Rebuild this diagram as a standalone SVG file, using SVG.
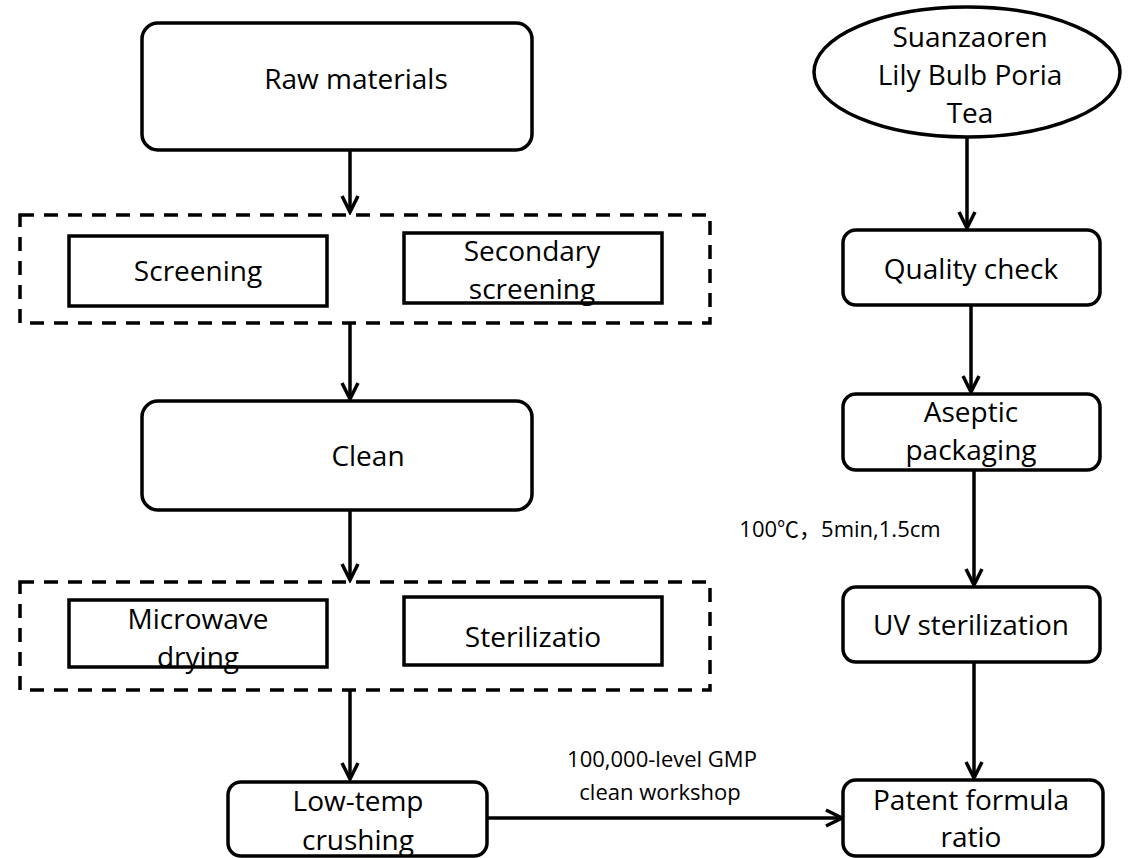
<svg xmlns="http://www.w3.org/2000/svg" width="1135" height="858" viewBox="0 0 1135 858">
<style>
.box{fill:#fff;stroke:#000;stroke-width:3.5}
.dash{fill:none;stroke:#000;stroke-width:3.5;stroke-dasharray:14 10}
.t{font-family:"Open Sans","Liberation Sans",sans-serif;font-size:28px;fill:#000;text-anchor:middle}
.s{font-family:"Open Sans","Liberation Sans","Noto Sans CJK SC",sans-serif;font-size:22px;fill:#000;text-anchor:middle}
.c{stroke:#000;stroke-width:3.5;fill:none}
</style>
<defs>
<marker id="ah" markerWidth="20" markerHeight="20" refX="17" refY="10" orient="auto" markerUnits="userSpaceOnUse">
<polyline points="1,2 17,10 1,18" fill="none" stroke="#000" stroke-width="3.5"/>
</marker>
</defs>
<rect width="1135" height="858" fill="#fff"/>
<g id="connectors">
<line class="c" x1="350" y1="150" x2="350" y2="212" marker-end="url(#ah)"/>
<line class="c" x1="350" y1="323" x2="350" y2="399" marker-end="url(#ah)"/>
<line class="c" x1="350" y1="510" x2="350" y2="580" marker-end="url(#ah)"/>
<line class="c" x1="350" y1="690" x2="350" y2="779" marker-end="url(#ah)"/>
<line class="c" x1="487" y1="818" x2="842" y2="818" marker-end="url(#ah)"/>
<line class="c" x1="967" y1="137" x2="967" y2="228" marker-end="url(#ah)"/>
<line class="c" x1="971" y1="305" x2="971" y2="392" marker-end="url(#ah)"/>
<line class="c" x1="974" y1="470" x2="974" y2="585" marker-end="url(#ah)"/>
<line class="c" x1="974" y1="662" x2="974" y2="778" marker-end="url(#ah)"/>
<text class="s" x="662" y="767">100,000-level GMP</text>
<text class="s" x="660" y="800">clean workshop</text>
<text class="s" x="840" y="537">100℃，5min,1.5cm</text>
</g>
<g id="raw"><rect class="box" x="142" y="23" width="390" height="127" rx="16"/><text class="t" x="356" y="89">Raw materials</text></g>
<g id="group1"><rect class="dash" x="20" y="215" width="690" height="108"/></g>
<g id="screening"><rect class="box" x="69" y="236" width="258" height="70"/><text class="t" x="198" y="281">Screening</text></g>
<g id="secondary"><rect class="box" x="404" y="233" width="258" height="70"/><text class="t" x="532" y="261">Secondary</text><text class="t" x="532" y="299">screening</text></g>
<g id="clean"><rect class="box" x="142" y="401" width="390" height="109" rx="16"/><text class="t" x="368" y="466">Clean</text></g>
<g id="group2"><rect class="dash" x="20" y="582" width="690" height="108"/></g>
<g id="microwave"><rect class="box" x="69" y="600" width="258" height="67"/><text class="t" x="198" y="629">Microwave</text><text class="t" x="198" y="667">drying</text></g>
<g id="steril"><rect class="box" x="404" y="597" width="258" height="68"/><text class="t" x="533" y="647">Sterilizatio</text></g>
<g id="lowtemp"><rect class="box" x="228" y="782" width="259" height="74" rx="13"/><text class="t" x="358" y="811">Low-temp</text><text class="t" x="358" y="850">crushing</text></g>
<g id="tea"><ellipse class="box" cx="967" cy="72" rx="153" ry="65"/><text class="t" x="970" y="47">Suanzaoren</text><text class="t" x="970" y="85">Lily Bulb Poria</text><text class="t" x="970" y="123">Tea</text></g>
<g id="quality"><rect class="box" x="843" y="230" width="257" height="75" rx="13"/><text class="t" x="971" y="279">Quality check</text></g>
<g id="aseptic"><rect class="box" x="843" y="394" width="257" height="76" rx="13"/><text class="t" x="971" y="422">Aseptic</text><text class="t" x="971" y="460">packaging</text></g>
<g id="uv"><rect class="box" x="843" y="587" width="257" height="75" rx="13"/><text class="t" x="971" y="635">UV sterilization</text></g>
<g id="patent"><rect class="box" x="843" y="780" width="260" height="76" rx="13"/><text class="t" x="971" y="810">Patent formula</text><text class="t" x="971" y="847">ratio</text></g>
</svg>
